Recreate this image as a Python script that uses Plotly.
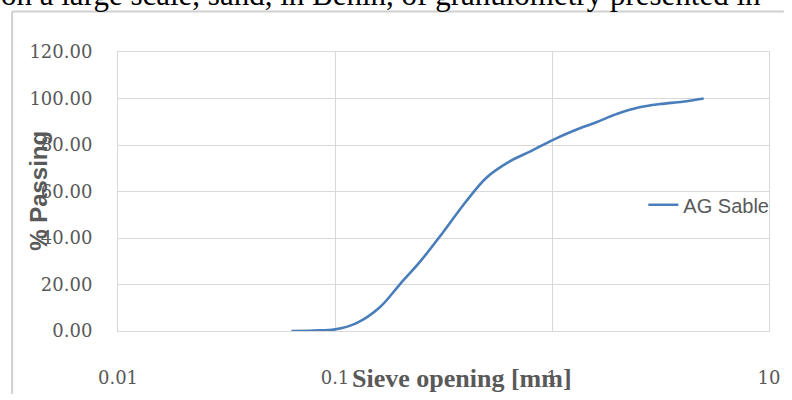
import plotly.graph_objects as go

# Data
sieve_mm = [0.063, 0.08, 0.1, 0.125, 0.16, 0.2, 0.25, 0.315, 0.4, 0.5, 0.63, 0.8,
            1.0, 1.25, 1.6, 2.0, 2.5, 3.15, 4.0, 5.0]
passing_pct = [0.0, 0.2, 0.7, 3.3, 10.0, 20.3, 30.5, 42.5, 55.5, 66.0, 72.6, 77.4,
               82.0, 86.0, 89.8, 93.4, 96.1, 97.6, 98.6, 100.0]
series_name = "AG Sable"
y_ticks = [0, 20, 40, 60, 80, 100, 120]
x_ticks = [0.01, 0.1, 1, 10]
x_tick_labels = ["0.01", "0.1", "1", "10"]

W, H = 792, 400
L, R, T, B = 118, 16, 52, 65
pw, ph = W - L - R, H - T - B


def px_x(p):
    return (p - L) / pw


def px_y(p):
    return (H - B - p) / ph


GRAY = "#595959"
GRID = "#d9d9d9"

fig = go.Figure()
fig.add_trace(go.Scatter(
    x=sieve_mm, y=passing_pct, name=series_name, mode="lines",
    line=dict(color="#4A7EBB", width=2.6, shape="spline", smoothing=1.0),
))

fig.update_layout(
    width=W, height=H,
    margin=dict(l=L, r=R, t=T, b=B),
    paper_bgcolor="white", plot_bgcolor="white",
    showlegend=True,
    legend=dict(x=px_x(649), y=px_y(207), xanchor="left", yanchor="middle",
                font=dict(family="Liberation Sans", size=20, color=GRAY),
                bgcolor="rgba(0,0,0,0)", borderwidth=0),
    xaxis=dict(type="log", range=[-2, 1], tickvals=x_ticks, ticktext=x_tick_labels,
               showgrid=True, gridcolor=GRID, gridwidth=1,
               showline=True, linecolor=GRID, linewidth=1, mirror=True,
               ticks="", ticklabelstandoff=30, zeroline=False,
               tickfont=dict(family="DejaVu Serif", size=18, color=GRAY)),
    yaxis=dict(range=[0, 120], tickvals=y_ticks, tickformat=".2f",
               showgrid=True, gridcolor=GRID, gridwidth=1,
               showline=True, linecolor=GRID, linewidth=1, mirror=True,
               ticks="", ticklabelstandoff=21, zeroline=False,
               tickfont=dict(family="DejaVu Serif", size=18, color=GRAY)),
)

# Outer chart frame (left and top borders visible in the crop)
fig.add_shape(type="line", xref="paper", yref="paper",
              x0=px_x(11), x1=px_x(11), y0=px_y(11), y1=px_y(399),
              line=dict(color="#d0d0d0", width=2))
fig.add_shape(type="line", xref="paper", yref="paper",
              x0=px_x(11), x1=px_x(791), y0=px_y(11), y1=px_y(11),
              line=dict(color="#d0d0d0", width=2))

# Axis titles
fig.add_annotation(text="% Passing", xref="paper", yref="paper",
                   x=px_x(37), y=px_y(193), xanchor="center", yanchor="middle",
                   textangle=-90, showarrow=False,
                   font=dict(family="Liberation Sans", size=24, color=GRAY, weight="bold"))
fig.add_annotation(text="Sieve opening [mm]", xref="paper", yref="paper",
                   x=px_x(466), y=px_y(400), xanchor="center", yanchor="bottom",
                   showarrow=False,
                   font=dict(family="Liberation Serif", size=26, color=GRAY, weight="bold"))

# Surrounding document text (cut off at the top of the crop)
fig.add_annotation(text="on a large scale, sand, in Benin, of granulometry presented in",
                   xref="paper", yref="paper",
                   x=px_x(-2), y=px_y(13), xanchor="left", yanchor="bottom",
                   showarrow=False,
                   font=dict(family="Liberation Serif", size=31, color="black"))

fig.write_html(
    "out.html",
    config={"displayModeBar": False},
    post_script=(
        "document.documentElement.style.margin='0';"
        "document.body.style.margin='0';"
        "document.body.style.overflow='hidden';"
        "document.documentElement.style.overflow='hidden';"
    ),
)
